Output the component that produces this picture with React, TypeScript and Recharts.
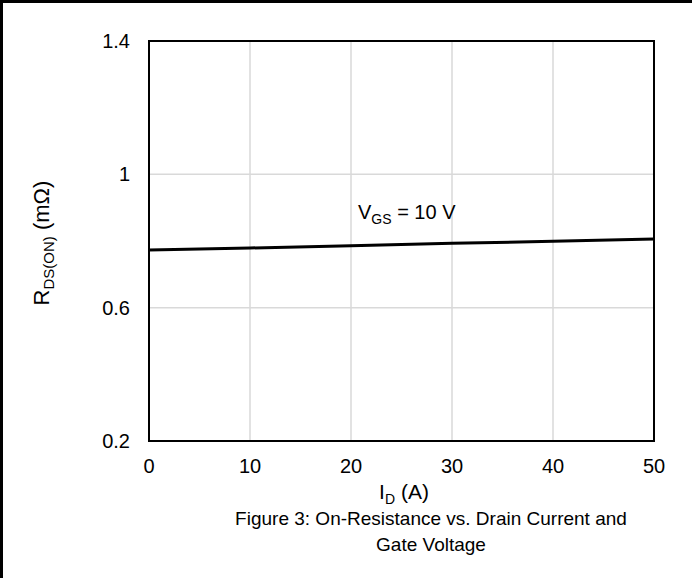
import React from 'react'
import { LineChart, Line, XAxis, YAxis, CartesianGrid, ReferenceArea, ReferenceDot, Label } from 'recharts'

const currentA = [0, 10, 20, 30, 40, 50]
const rdsOnVgs10 = [0.773, 0.779, 0.786, 0.793, 0.799, 0.806]
const xTicks = [0, 10, 20, 30, 40, 50]
const yTicks = [0.2, 0.6, 1.0, 1.4]

const data = currentA.map((id, i) => ({ id, rds: rdsOnVgs10[i] }))

const FONT = '"Liberation Sans", Arial, sans-serif'
const FS = 19
const TICK = 20
const AX = 21
const SUB = 14

const fmtY = (v: number) => (v === 1 ? '1' : v.toString())

const App: React.FC = () => {
  return (
    <div style={{ position: 'absolute', left: 0, top: 0, width: 692, height: 578, background: '#fff', fontFamily: FONT }}>
      <LineChart width={692} height={578} data={data} margin={{ top: 41, right: 38, bottom: 107, left: 89 }}>
        <CartesianGrid stroke="#d9d9d9" strokeWidth={1.5} />
        <XAxis
          dataKey="id" type="number" domain={[0, 50]} ticks={xTicks} height={30}
          axisLine={false} tickLine={false} tickSize={0} tickMargin={18}
          tick={{ fill: '#000', fontSize: TICK, fontFamily: FONT }}
        >
          <Label
            position="bottom"
            content={() => (
              <text x={404} y={499} textAnchor="middle" fontSize={AX} fontFamily={FONT} fill="#000">
                I<tspan dy={5} fontSize={SUB}>D</tspan><tspan dy={-5}> (A)</tspan>
              </text>
            )}
          />
        </XAxis>
        <YAxis
          type="number" domain={[0.2, 1.4]} ticks={yTicks} width={60} tickFormatter={fmtY}
          axisLine={false} tickLine={false} tickSize={0} tickMargin={19}
          tick={{ fill: '#000', fontSize: TICK, fontFamily: FONT }}
        >
          <Label
            position="left"
            content={() => (
              <text x={49} y={243} transform="rotate(-90 49 243)" textAnchor="middle" fontSize={22} fontFamily={FONT} fill="#000">
                R<tspan dy={5} fontSize={15}>DS(ON)</tspan><tspan dy={-5}> (mΩ)</tspan>
              </text>
            )}
          />
        </YAxis>
        <ReferenceArea x1={0} x2={50} y1={0.2} y2={1.4} fill="none" stroke="#000" strokeWidth={2} />
        <Line dataKey="rds" stroke="#000" strokeWidth={3} dot={false} isAnimationActive={false} />
        <ReferenceDot
          x={21} y={0.88} r={0} fill="none" stroke="none"
          label={{
            content: () => (
              <text x={358} y={219} fontSize={20} fontFamily={FONT} fill="#000">
                V<tspan dy={5} fontSize={SUB}>GS</tspan><tspan dy={-5}> = 10 V</tspan>
              </text>
            ),
          }}
        />
      </LineChart>
      <div style={{ position: 'absolute', left: 170, top: 506, width: 522, textAlign: 'center', fontSize: FS, lineHeight: '26px', color: '#000' }}>
        Figure 3: On-Resistance vs. Drain Current and<br />Gate Voltage
      </div>
      <div style={{ position: 'absolute', left: 0, top: 0, width: 692, height: 578, borderTop: '3px solid #000', borderLeft: '3px solid #000', boxSizing: 'border-box', pointerEvents: 'none' }} />
    </div>
  )
}

export default App
